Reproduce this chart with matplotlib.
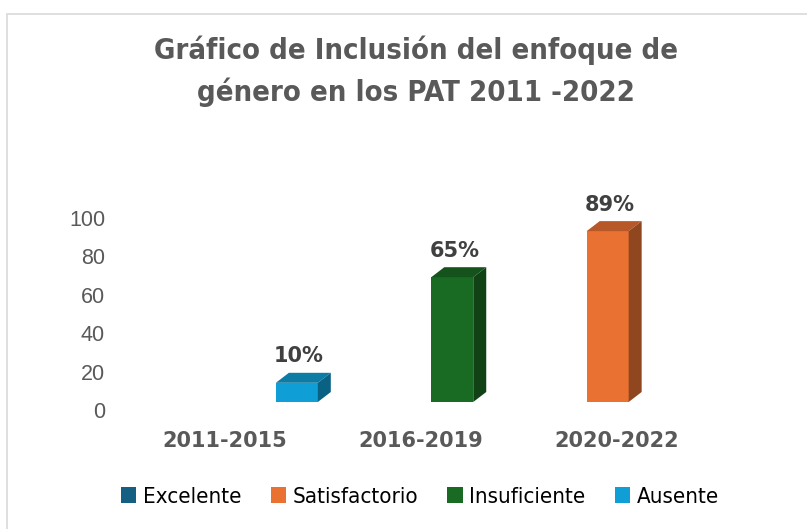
import numpy as np
import matplotlib
matplotlib.use("Agg")
import matplotlib.pyplot as plt
from matplotlib.patches import Patch, Polygon, Rectangle

periodos = ['2011-2015', '2016-2019', '2020-2022']
series = ['Excelente', 'Satisfactorio', 'Insuficiente', 'Ausente']
excelente = [0, 0, 0]
satisfactorio = [0, 0, 89]
insuficiente = [0, 65, 0]
ausente = [10, 0, 0]
valores = [excelente, satisfactorio, insuficiente, ausente]
colores = ['#156082', '#E97132', '#196B24', '#0F9ED5']
y_ticks = [0, 20, 40, 60, 80, 100]


def shade(c, k):
    r, g, b = matplotlib.colors.to_rgb(c)
    return (r * k, g * k, b * k)


W, H = 807, 529
fig = plt.figure(figsize=(W / 100, H / 100), dpi=100)

# marco del gráfico
fig.patches.append(Rectangle((7 / W, -0.1), 1.2, 1 - 14 / H + 0.1, transform=fig.transFigure,
                             fill=False, edgecolor='#d9d9d9', linewidth=1.2))

# categoria 0 en x=225px, paso 196px; y=0 en 402px, 1.92px por unidad
ax_l, ax_r = 112, 790
x0, step = 225, 196
ax = fig.add_axes([ax_l / W, (H - 402) / H, (ax_r - ax_l) / W, 105 * 1.92 / H])
ax.set_xlim((ax_l - x0) / step, (ax_r - x0) / step)
ax.set_ylim(0, 105)
for s in ax.spines.values():
    s.set_visible(False)

ancho = 0.214
sep = 0.207
desp = 0.056
dx, dy = 13 / step, 10 / 1.92   # profundidad 3D

x = np.arange(len(periodos))
for i, (nombre, vals, col) in enumerate(zip(series, valores, colores)):
    pos = x + (i - 1.5) * sep + desp
    for xp, v in zip(pos, vals):
        if v <= 0:
            continue
        ax.bar(xp, v, width=ancho, color=col, linewidth=0, zorder=3)
        xl, xr = xp - ancho / 2, xp + ancho / 2
        ax.add_patch(Polygon([(xl, v), (xr, v), (xr + dx, v + dy), (xl + dx, v + dy)],
                             closed=True, facecolor=shade(col, 0.78), edgecolor='none',
                             zorder=3, clip_on=False))
        ax.add_patch(Polygon([(xr, 0), (xr + dx, dy), (xr + dx, v + dy), (xr, v)],
                             closed=True, facecolor=shade(col, 0.62), edgecolor='none',
                             zorder=3, clip_on=False))
        ax.annotate(f'{v}%', (xp, v), xytext=(1.5, 19), textcoords='offset points',
                    ha='center', va='center', fontsize=15, fontweight='bold',
                    color='#404040', clip_on=False)

ax.set_xticks(x)
ax.set_xticklabels(periodos, fontsize=15, fontweight='bold', color='#595959',
                   family='DejaVu Sans')
ax.set_yticks(y_ticks)
ax.set_yticklabels([str(t) for t in y_ticks], fontsize=15.5, color='#595959',
                   family='Liberation Sans')
ax.tick_params(axis='x', length=0, pad=21)
ax.tick_params(axis='y', length=0, pad=5)
off = matplotlib.transforms.ScaledTranslation(0, -8 / 100, fig.dpi_scale_trans)
for lab in ax.get_yticklabels():
    lab.set_transform(lab.get_transform() + off)

fig.text(416 / W, 1 - 50 / H, 'Gráfico de Inclusión del enfoque de', ha='center', va='center',
         fontsize=21, fontweight='bold', color='#595959', family='DejaVu Sans',
         fontstretch='condensed')
fig.text(416 / W, 1 - 92 / H, 'género en los PAT 2011 -2022', ha='center', va='center',
         fontsize=21, fontweight='bold', color='#595959', family='DejaVu Sans',
         fontstretch='condensed')

handles = [Patch(facecolor=c, edgecolor='none') for c in colores]
fig.legend(handles, series, loc='center', bbox_to_anchor=(420 / W, 1 - 497 / H), ncol=4,
           frameon=False, prop={'family': 'DejaVu Sans', 'size': 16, 'stretch': 'condensed'},
           handlelength=0.7, handleheight=0.7, handletextpad=0.3, columnspacing=1.3)

fig.savefig('out.png', dpi=100)
